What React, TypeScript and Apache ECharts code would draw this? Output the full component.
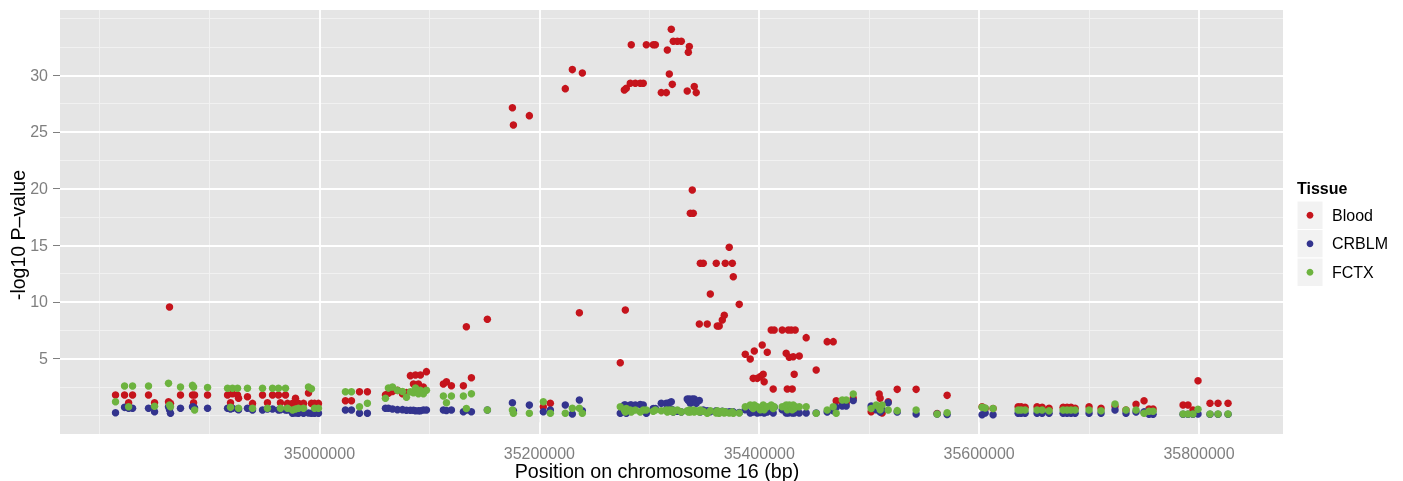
import React, { useEffect, useRef } from "react";
import * as echarts from "echarts";

// SNP positions on chromosome 16 (bp)
const positions = [
  34814500, 34822700, 34826400, 34830000, 34844500, 34850000, 34862700, 34863600, 34864500, 34873600,
  34884500, 34885500, 34886400, 34898200, 34916400, 34919100, 34920900, 34925500, 34926400, 34934500,
  34939100, 34948200, 34952700, 34957300, 34962700, 34964500, 34969100, 34970900, 34975500, 34978200,
  34980900, 34985500, 34990000, 34992700, 34995500, 34999100, 35023600, 35029100, 35036400, 35043600,
  35060000, 35062700, 35066400, 35070900, 35075500, 35079100, 35082700, 35085500, 35087300, 35090000,
  35091800, 35094500, 35097300, 35112700, 35115500, 35120000, 35130900, 35133600, 35138200, 35152700,
  35175500, 35176400, 35190900, 35203600, 35210000, 35223600, 35230000, 35236400, 35239100, 35273600,
  35277300, 35278200, 35279100, 35282700, 35283600, 35287300, 35291800, 35294500, 35297300, 35303600,
  35305500, 35310900, 35315500, 35316400, 35318200, 35320000, 35320900, 35321800, 35325500, 35329100,
  35334500, 35335500, 35336400, 35337300, 35339100, 35340000, 35340900, 35342700, 35345500, 35346400,
  35349100, 35352700, 35355500, 35360900, 35361800, 35363600, 35366400, 35368200, 35369100, 35372700,
  35375500, 35376400, 35381800, 35387300, 35391800, 35394500, 35395500, 35398200, 35400900, 35402700,
  35403600, 35404500, 35407300, 35410900, 35412700, 35413600, 35420900, 35424500, 35425500, 35426400,
  35427300, 35429100, 35430000, 35430900, 35431800, 35432700, 35436400, 35442700, 35451800, 35461800,
  35467300, 35470000, 35475500, 35479100, 35485500, 35501800, 35506400, 35509100, 35510000, 35511800,
  35517300, 35525500, 35542700, 35561800, 35570900, 35602700, 35605500, 35612700, 35635500, 35638200,
  35641800, 35652700, 35657300, 35663600, 35676400, 35680000, 35683600, 35687300, 35700000, 35710900,
  35723600, 35733600, 35742700, 35750000, 35754500, 35758200, 35785500, 35790000, 35794500, 35799100,
  35810000, 35817300, 35826400,
];

// -log10 P-value per tissue, same order as positions
const blood = [
  1.79, 1.79, 1.11, 1.79, 1.79, 1.11, 1.2, 9.56, 1.05, 1.79,
  1.79, 1.11, 1.79, 1.79, 1.79, 1.11, 1.9, 1.79, 1.5, 1.64,
  1.05, 1.79, 1.11, 1.79, 1.79, 1.11, 1.79, 1.05, 1.05, 1.5,
  1.05, 1.05, 1.97, 1.05, 1.05, 1.05, 1.29, 1.29, 2.08, 2.08,
  1.8, 1.94, 2.1, 2.2, 1.9, 2.0, 3.5, 2.76, 3.56, 2.76,
  3.56, 2.5, 3.85, 2.76, 2.95, 2.6, 2.6, 7.82, 3.32, 8.47,
  27.14, 25.62, 26.44, 0.76, 1.06, 28.82, 30.5, 9.05, 30.2, 4.64,
  28.7, 9.29, 28.85, 29.3, 32.7, 29.3, 29.3, 29.3, 32.7, 32.7,
  32.7, 28.47, 28.47, 32.23, 30.12, 34.06, 29.2, 33.0, 33.0, 33.0,
  28.62, 32.03, 32.53, 17.82, 19.88, 17.82, 29.0, 28.47, 8.06, 13.41,
  13.41, 8.06, 10.7, 13.41, 7.88, 7.88, 8.41, 8.82, 13.41, 14.82,
  13.41, 12.23, 9.79, 5.38, 4.97, 3.26, 5.67, 3.26, 3.41, 6.2,
  3.62, 2.96, 5.56, 7.53, 2.32, 7.53, 7.53, 5.47, 2.32, 7.53,
  5.12, 7.53, 2.32, 5.17, 3.62, 7.53, 5.23, 6.85, 4.0, 6.5,
  6.5, 1.29, 1.1, 1.1, 1.5, 0.32, 0.7, 1.88, 1.5, 0.2,
  1.2, 2.29, 2.29, 0.15, 1.76, 0.76, 0.6, 0.6, 0.76, 0.76,
  0.7, 0.76, 0.7, 0.62, 0.7, 0.7, 0.7, 0.62, 0.76, 0.62,
  0.8, 0.47, 0.97, 1.29, 0.55, 0.55, 0.91, 0.91, 0.47, 3.05,
  1.06, 1.06, 1.06,
];

const crblm = [
  0.23, 0.7, 0.62, 0.62, 0.62, 0.32, 0.76, 0.5, 0.18, 0.62,
  0.76, 0.72, 0.65, 0.62, 0.62, 0.55, 0.62, 0.55, 0.5, 0.62,
  0.47, 0.47, 0.55, 0.55, 0.47, 0.5, 0.47, 0.47, 0.18, 0.2,
  0.18, 0.18, 0.2, 0.18, 0.18, 0.18, 0.47, 0.47, 0.18, 0.18,
  0.62, 0.62, 0.55, 0.5, 0.5, 0.45, 0.45, 0.45, 0.4, 0.4,
  0.4, 0.47, 0.47, 0.47, 0.42, 0.47, 0.32, 0.47, 0.32, 0.47,
  1.1, 0.4, 0.9, 0.32, 0.47, 0.91, 0.12, 1.35, 0.4, 0.18,
  0.91, 0.9, 0.18, 0.91, 0.91, 0.91, 0.95, 0.9, 0.18, 0.6,
  0.6, 1.06, 1.06, 0.7, 1.1, 1.2, 0.5, 0.3, 0.35, 0.3,
  1.44, 1.3, 1.44, 1.06, 1.44, 1.2, 1.44, 1.06, 1.3, 0.3,
  0.47, 0.4, 0.32, 0.4, 0.32, 0.32, 0.35, 0.32, 0.3, 0.32,
  0.32, 0.3, 0.25, 0.5, 0.2, 0.3, 0.5, 0.2, 0.25, 0.7,
  0.4, 0.2, 0.3, 0.7, 0.2, 0.7, 0.5, 0.2, 0.6, 0.2,
  0.5, 0.3, 0.2, 0.7, 0.2, 0.5, 0.2, 0.2, 0.2, 0.3,
  0.4, 0.7, 0.82, 0.82, 1.3, 0.82, 0.5, 0.6, 0.3, 0.5,
  1.1, 0.3, 0.11, 0.11, 0.08, 0.05, 0.2, 0.05, 0.18, 0.18,
  0.18, 0.18, 0.18, 0.18, 0.18, 0.18, 0.18, 0.18, 0.18, 0.18,
  0.47, 0.18, 0.3, 0.3, 0.1, 0.1, 0.1, 0.1, 0.1, 0.12,
  0.1, 0.1, 0.1,
];

const fctx = [
  1.2, 2.58, 0.76, 2.58, 2.58, 0.8, 2.82, 0.9, 0.76, 2.5,
  2.64, 2.5, 0.47, 2.45, 2.38, 0.7, 2.38, 2.38, 0.62, 2.38,
  0.62, 2.38, 0.62, 2.38, 2.38, 0.62, 2.38, 0.62, 0.47, 0.55,
  0.62, 0.62, 2.5, 2.35, 0.62, 0.62, 2.08, 2.08, 0.76, 1.06,
  1.5, 2.4, 2.5, 2.2, 2.1, 1.6, 2.08, 2.0, 2.4, 1.9,
  2.2, 1.9, 2.2, 1.7, 1.1, 1.7, 1.7, 0.6, 1.9, 0.47,
  0.47, 0.18, 0.18, 1.2, 0.18, 0.18, 0.62, 0.62, 0.18, 0.76,
  0.47, 0.3, 0.6, 0.47, 0.3, 0.47, 0.3, 0.47, 0.47, 0.35,
  0.47, 0.4, 0.47, 0.3, 0.47, 0.35, 0.47, 0.3, 0.47, 0.3,
  0.4, 0.3, 0.47, 0.3, 0.4, 0.47, 0.3, 0.4, 0.3, 0.47,
  0.35, 0.18, 0.4, 0.2, 0.4, 0.18, 0.35, 0.2, 0.3, 0.2,
  0.3, 0.18, 0.2, 0.76, 0.9, 0.6, 0.9, 0.76, 0.5, 0.76,
  0.9, 0.5, 0.76, 0.9, 0.6, 0.76, 0.76, 0.9, 0.5, 0.76,
  0.9, 0.76, 0.5, 0.9, 0.6, 0.76, 0.76, 0.76, 0.18, 0.47,
  0.76, 0.18, 1.35, 1.35, 1.88, 0.6, 0.9, 0.7, 0.5, 0.9,
  0.47, 0.41, 0.47, 0.11, 0.23, 0.7, 0.65, 0.6, 0.47, 0.47,
  0.47, 0.47, 0.47, 0.4, 0.47, 0.47, 0.47, 0.47, 0.47, 0.4,
  1.0, 0.47, 0.47, 0.18, 0.35, 0.35, 0.12, 0.12, 0.12, 0.53,
  0.12, 0.12, 0.12,
];

const tissues = ["Blood", "CRBLM", "FCTX"];
const tissueColors = ["#C5141C", "#33348E", "#6DB33F"];

const xTicks = [35000000, 35200000, 35400000, 35600000, 35800000];
const xMinor = [34800000, 34900000, 35100000, 35300000, 35500000, 35700000];
const yTicks = [5, 10, 15, 20, 25, 30];
const yMinor = [0, 2.5, 7.5, 12.5, 17.5, 22.5, 27.5, 32.5, 35];

const FONT = "'Liberation Sans', Arial, Helvetica, sans-serif";

export default function App() {
  const ref = useRef<HTMLDivElement>(null);

  useEffect(() => {
    if (!ref.current) return;
    const chart = echarts.init(ref.current, undefined, { renderer: "svg" });
    const valueSets = [blood, crblm, fctx];
    const minorStyle = { color: "#F2F2F2", width: 0.9, type: "solid" };
    const majorStyle = { color: "#FFFFFF", width: 1.8, type: "solid" };

    const gridSeries: any = {
      type: "scatter",
      name: "gridlines",
      data: [],
      silent: true,
      z: 1,
      markLine: {
        silent: true,
        z: 1,
        symbol: ["none", "none"],
        label: { show: false },
        emphasis: { disabled: true },
        data: [
          ...yMinor.map((v) => ({ yAxis: v, lineStyle: minorStyle })),
          ...xMinor.map((v) => ({ xAxis: v, lineStyle: minorStyle })),
          ...yTicks.map((v) => ({ yAxis: v, lineStyle: majorStyle })),
          ...xTicks.map((v) => ({ xAxis: v, lineStyle: majorStyle })),
        ],
      },
    };

    const scatterSeries = tissues.map((name, k) => ({
      name,
      type: "scatter",
      symbol: "circle",
      symbolSize: 7.5,
      silent: true,
      z: 3,
      itemStyle: { color: tissueColors[k], opacity: 1 },
      data: positions.map((p, i) => [p, valueSets[k][i]]),
    }));

    const keyTop = 201;
    const keyStep = 28.5;
    const legendGraphics: any[] = [];
    tissues.forEach((name, i) => {
      legendGraphics.push({
        type: "rect",
        z: 1,
        silent: true,
        shape: { x: 1297, y: keyTop + keyStep * i, width: 26, height: keyStep },
        style: { fill: "#F2F2F2", stroke: "#FFFFFF", lineWidth: 1 },
      });
      legendGraphics.push({
        type: "circle",
        z: 2,
        silent: true,
        shape: { cx: 1310, cy: keyTop + keyStep * i + keyStep / 2, r: 3.4 },
        style: { fill: tissueColors[i] },
      });
      legendGraphics.push({
        type: "text",
        z: 2,
        silent: true,
        x: 1332,
        y: keyTop + keyStep * i + keyStep / 2,
        style: { text: name, fontSize: 16, fontFamily: FONT, fill: "#000000", align: "left", verticalAlign: "middle" },
      });
    });

    chart.setOption({
      animation: false,
      color: tissueColors,
      grid: {
        left: 60,
        top: 10,
        width: 1223,
        height: 424,
        show: true,
        backgroundColor: "#E5E5E5",
        borderWidth: 0,
        containLabel: false,
        outerBoundsMode: "none",
      },
      xAxis: {
        type: "value",
        min: 34764000,
        max: 35876400,
        axisLine: { show: false },
        axisTick: { show: true, customValues: xTicks, length: 7, lineStyle: { color: "#7F7F7F", width: 1 } },
        axisLabel: {
          customValues: xTicks,
          formatter: (v: number) => String(v),
          color: "#7F7F7F",
          fontSize: 16,
          lineHeight: 16,
          fontFamily: FONT,
          margin: 11,
        },
        splitLine: { show: false },
      },
      yAxis: {
        type: "value",
        min: -1.65,
        max: 35.76,
        axisLine: { show: false },
        axisTick: { show: true, customValues: yTicks, length: 7, lineStyle: { color: "#7F7F7F", width: 1 } },
        axisLabel: {
          customValues: yTicks,
          formatter: (v: number) => String(v),
          color: "#7F7F7F",
          fontSize: 16,
          fontFamily: FONT,
          margin: 12,
        },
        splitLine: { show: false },
      },
      graphic: [
        ...legendGraphics,
        {
          type: "text",
          z: 5,
          silent: true,
          x: 1297,
          y: 188,
          style: { text: "Tissue", fontSize: 16, fontWeight: "bold", fontFamily: FONT, fill: "#000000", align: "left", verticalAlign: "middle" },
        },
        {
          type: "text",
          z: 5,
          silent: true,
          x: 657,
          y: 471,
          style: { text: "Position on chromosome 16 (bp)", fontSize: 19.7, lineHeight: 18, fontFamily: FONT, fill: "#000000", align: "center", verticalAlign: "middle" },
        },
        {
          type: "text",
          z: 5,
          silent: true,
          x: 18,
          y: 235,
          rotation: Math.PI / 2,
          style: { text: "-log10 P–value", fontSize: 19.5, fontFamily: FONT, fill: "#000000", align: "center", verticalAlign: "middle" },
        },
      ],
      series: [gridSeries, ...scatterSeries],
    });

    return () => chart.dispose();
  }, []);

  return <div ref={ref} style={{ position: "fixed", left: 0, top: 0, width: 1403, height: 481 }} />;
}
